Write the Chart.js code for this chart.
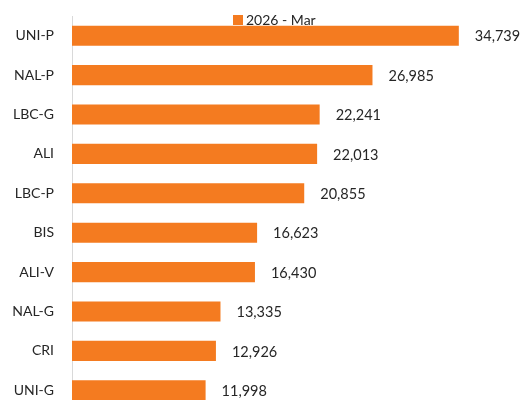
<!DOCTYPE html>
<html>
<head>
<meta charset="utf-8">
<script src="https://cdn.jsdelivr.net/npm/chart.js@4.4.0/dist/chart.umd.min.js"></script>
<style>
  html, body { margin: 0; padding: 0; background: #fff; overflow: hidden; }
</style>
</head>
<body>
<canvas id="chart" width="527" height="412"></canvas>
<script>
// ===== DATA =====
const categories = ['UNI-P', 'NAL-P', 'LBC-G', 'ALI', 'LBC-P', 'BIS', 'ALI-V', 'NAL-G', 'CRI', 'UNI-G'];
const values = [34739, 26985, 22241, 22013, 20855, 16623, 16430, 13335, 12926, 11998];
const seriesName = '2026 - Mar';
const barColor = '#F47B20';

// ===== VALUE LABELS (right of each bar) =====
const valueLabels = {
  id: 'valueLabels',
  afterDatasetsDraw(chart) {
    const ctx = chart.ctx;
    const meta = chart.getDatasetMeta(0);
    ctx.save();
    ctx.font = '14.5px Lato';
    ctx.fillStyle = '#262626';
    ctx.textAlign = 'left';
    ctx.textBaseline = 'middle';
    meta.data.forEach((bar, i) => {
      ctx.fillText(values[i].toLocaleString('en-US'), bar.x + 16, bar.y + 1);
    });
    ctx.restore();
  }
};

// ===== LEGEND (sits over the top of the plot, like the original) =====
const topLegend = {
  id: 'topLegend',
  afterDraw(chart) {
    const ctx = chart.ctx;
    const ds = chart.data.datasets[0];
    const x = 233, y = 20;
    ctx.save();
    ctx.fillStyle = ds.backgroundColor;
    ctx.fillRect(x, y - 5, 10, 10);
    ctx.font = '14px Lato';
    ctx.fillStyle = '#262626';
    ctx.textAlign = 'left';
    ctx.textBaseline = 'middle';
    ctx.fillText(ds.label, x + 13, y);
    ctx.restore();
  }
};

// ===== BAR CHART =====
const ctx = document.getElementById('chart').getContext('2d');
new Chart(ctx, {
  type: 'bar',
  data: {
    labels: categories,
    datasets: [{
      label: seriesName,
      data: values,
      backgroundColor: barColor,
      borderWidth: 0,
      categoryPercentage: 1,
      barPercentage: 0.51
    }]
  },
  options: {
    indexAxis: 'y',
    responsive: false,
    animation: false,
    layout: { padding: { left: 0, right: 43, top: 16, bottom: 2 } },
    plugins: {
      legend: { display: false },
      tooltip: { enabled: false }
    },
    scales: {
      x: {
        display: false,
        min: 0,
        max: 37000
      },
      y: {
        grid: { display: false },
        border: { display: true, color: '#d9d9d9', width: 1 },
        ticks: {
          color: '#262626',
          padding: 10,
          font: { family: 'Lato', size: 14 }
        },
        afterFit(scale) {
          scale.width = 72;
          scale.paddingTop = 0;
          scale.paddingBottom = 0;
        }
      }
    }
  },
  plugins: [valueLabels, topLegend]
});
</script>
</body>
</html>
